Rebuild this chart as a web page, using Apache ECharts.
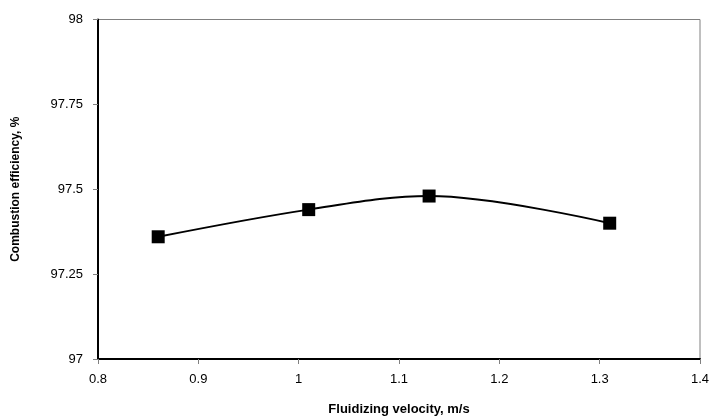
<!DOCTYPE html>
<html>
<head>
<meta charset="utf-8">
<script src="https://cdn.jsdelivr.net/npm/echarts@6/dist/echarts.min.js"></script>
<style>
  html, body { margin: 0; padding: 0; background: #fff; }
  #chart { width: 712px; height: 416px; }
</style>
</head>
<body>
<div id="chart"></div>
<script>
// velocity (m/s) vs combustion efficiency (%)
const velocity = [0.86, 1.01, 1.13, 1.31]
const efficiency = [97.36, 97.44, 97.48, 97.40]
const xTicks = ['0.8', '0.9', '1', '1.1', '1.2', '1.3', '1.4']
const yTicks = ['97', '97.25', '97.5', '97.75', '98']

const chart = echarts.init(document.getElementById('chart'))
const font = 'Liberation Sans, Arial, sans-serif'

chart.setOption({
  backgroundColor: '#fff',
  animation: false,
  grid: { left: 98, right: 12, top: 19.5, bottom: 57, outerBoundsMode: 'none',
    show: true, borderColor: '#808080', borderWidth: 1 },
  xAxis: {
    type: 'value',
    min: 0.8, max: 1.4, interval: 0.1,
    name: 'Fluidizing velocity, m/s',
    nameLocation: 'middle',
    nameGap: 44,
    nameTextStyle: { fontFamily: font, fontWeight: 'bold', fontSize: 13, color: '#000' },
    axisLine: { onZero: false, lineStyle: { color: '#000', width: 2 } },
    axisTick: { show: true, length: 5, lineStyle: { color: '#808080' } },
    axisLabel: { color: '#000', fontFamily: font, fontSize: 13, margin: 14,
      formatter: v => xTicks[Math.round((v - 0.8) / 0.1)] },
    splitLine: { show: false },
  },
  yAxis: {
    type: 'value',
    min: 97, max: 98, interval: 0.25,
    name: 'Combustion efficiency, %',
    nameLocation: 'middle',
    nameGap: 76,
    nameTextStyle: { fontFamily: font, fontWeight: 'bold', fontSize: 12, color: '#000' },
    axisLine: { onZero: false, lineStyle: { color: '#000', width: 2 } },
    axisTick: { show: true, length: 5, lineStyle: { color: '#808080' } },
    axisLabel: { color: '#000', fontFamily: font, fontSize: 13, margin: 15,
      formatter: v => yTicks[Math.round((v - 97) / 0.25)] },
    splitLine: { show: false },
  },
  series: [{
    type: 'line',
    data: velocity.map((x, i) => [x, efficiency[i]]),
    smooth: 0.35,
    symbol: 'rect',
    symbolSize: 13,
    itemStyle: { color: '#000' },
    lineStyle: { color: '#000', width: 2 },
  }],
})
</script>
</body>
</html>
